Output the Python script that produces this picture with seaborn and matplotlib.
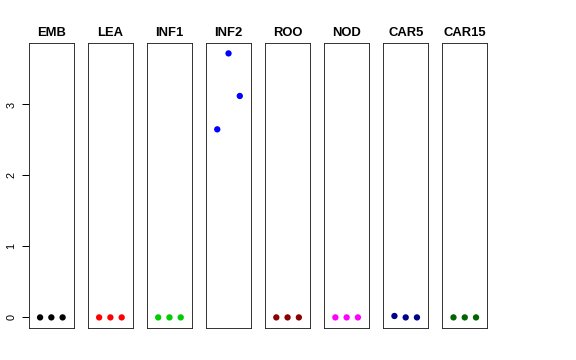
import matplotlib
matplotlib.use("Agg")
import matplotlib.pyplot as plt
import seaborn as sns
import pandas as pd

# valori (3 repliche per tessuto)
tessuti = ["EMB", "LEA", "INF1", "INF2", "ROO", "NOD", "CAR5", "CAR15"]
repliche = [1, 2, 3]
emb = [0, 0, 0]
lea = [0, 0, 0]
inf1 = [0, 0, 0]
inf2 = [2.65, 3.72, 3.12]
roo = [0, 0, 0]
nod = [0, 0, 0]
car5 = [0.02, 0, 0]
car15 = [0, 0, 0]
colori = ["black", "red", "#00CD00", "blue", "#8B0000", "magenta", "#00008B", "#006400"]

valori = [emb, lea, inf1, inf2, roo, nod, car5, car15]
df = pd.DataFrame({
    "tessuto": [t for t in tessuti for _ in repliche],
    "replica": repliche * len(tessuti),
    "valore": [v for serie in valori for v in serie],
})

sns.set_style("ticks", {"axes.edgecolor": "#222222", "text.color": "black",
                        "ytick.color": "black"})
plt.rcParams["font.family"] = ["Liberation Sans", "DejaVu Sans"]

fig, axes = plt.subplots(1, len(tessuti), figsize=(8, 5), dpi=72)
fig.subplots_adjust(left=0.05, right=0.846, top=0.881, bottom=0.089, wspace=0.31)

ymax = df["valore"].max()
pad = ymax * 0.04
for i, (ax, t, c) in enumerate(zip(axes, tessuti, colori)):
    sub = df[df["tessuto"] == t]
    sns.scatterplot(data=sub, x="replica", y="valore", color=c, s=40,
                    edgecolor="none", ax=ax, legend=False)
    ax.set_xlim(0, 4)
    ax.set_ylim(-pad, ymax + pad)
    ax.set_title(t, fontsize=13, fontweight="bold", pad=7, color="black")
    ax.set_xticks([])
    ax.set_xlabel("")
    ax.set_ylabel("")
    for sp in ax.spines.values():
        sp.set_visible(True)
        sp.set_linewidth(0.9)
    if i > 0:
        ax.set_yticks([])
    else:
        ax.set_yticks([0, 1, 2, 3])
        ax.tick_params(axis="y", labelsize=11, pad=9)
        for tk in ax.yaxis.get_major_ticks():
            tk.tick1line.set_visible(True)
            tk.tick1line.set_markersize(7)
            tk.tick1line.set_markeredgewidth(1.0)
            tk.tick1line.set_color("black")
        for lab in ax.get_yticklabels():
            lab.set_rotation(90)
            lab.set_va("center")

fig.savefig("out.png", dpi=72)
